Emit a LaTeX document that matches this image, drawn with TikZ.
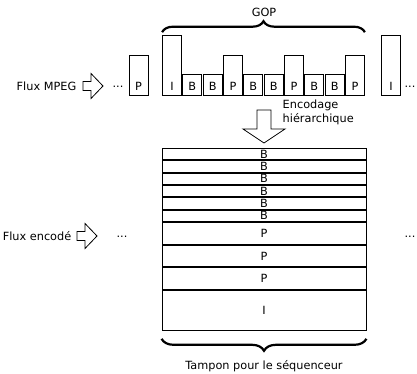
\documentclass[tikz,border=0pt]{standalone}
\usepackage{fontspec}
\setmainfont{DejaVu Sans}
\usetikzlibrary{positioning, decorations.pathreplacing}

\begin{document}
\begin{tikzpicture}[x=1pt, y=-1pt, line width=0.8pt, font=\fontsize{11.3}{14}\selectfont,
    frm/.style={draw, minimum width=19pt, inner sep=0pt, text depth=5.5pt, anchor=south},
    fI/.style={frm, text height=54.5pt},
    fP/.style={frm, text height=34.5pt},
    fB/.style={frm, text height=15.5pt},
    row/.style={draw, minimum width=204pt, inner sep=0pt, anchor=north},
    brc/.style={decorate, decoration={brace, amplitude=#1}, line width=2.2pt},
    barr/.pic={\draw (0,-4.5) -- (8,-4.5) -- (8,-12.5) -- (20,0) -- (8,12.5) -- (8,4.5) -- (0,4.5) -- cycle;}]
    \useasboundingbox (0,0) rectangle (417,374);

    \node[anchor=east] (fm) at (80,86) {Flux MPEG};
    \pic at (83,86) {barr};
    \node (d1) at (118,87) {...};
    \node[fP] (p0) at (138.5,96) {P};
    \foreach \t [count=\i] in {I,B,B,P,B,B,P,B,B,P}
        \node[f\t] (g\i) at ({172+(\i-1)*20.33},96) {\t};
    \node[fI] (i1) at (391,96) {I};
    \node (d2) at (410,87) {...};

    \draw[brc=11pt] ([yshift=3pt]g1.north west) -- ([yshift=3pt]g1.north west -| g10.east);
    \node (gop) at (264,12) {GOP};

    \draw (257,110) -- (271,110) -- (271,129) -- (285,129) -- (264,143) -- (243,129) -- (257,129) -- cycle;
    \node[anchor=west, align=left] (enc) at (279,112) {Encodage\\hiérarchique};

    \foreach \k in {0,...,5}
        \node[row, minimum height=11.3pt] (b\k) at (264,{148+12.33*\k}) {B};
    \foreach \k in {0,1,2}
        \node[row, minimum height=21.7pt] (p\k) at (264,{222+22.67*\k}) {P};
    \node[row, minimum height=40pt] (i0) at (264,290) {I};

    \node[anchor=east] (fe) at (75,236) {Flux encodé};
    \pic at (77,236) {barr};
    \node (d3) at (122,237) {...};
    \node (d4) at (410,237) {...};

    \draw[brc=12pt] ([yshift=-8pt]i0.south east) -- ([yshift=-8pt]i0.south west);
    \node (tmp) at (264,366) {Tampon pour le séquenceur};
\end{tikzpicture}
\end{document}
